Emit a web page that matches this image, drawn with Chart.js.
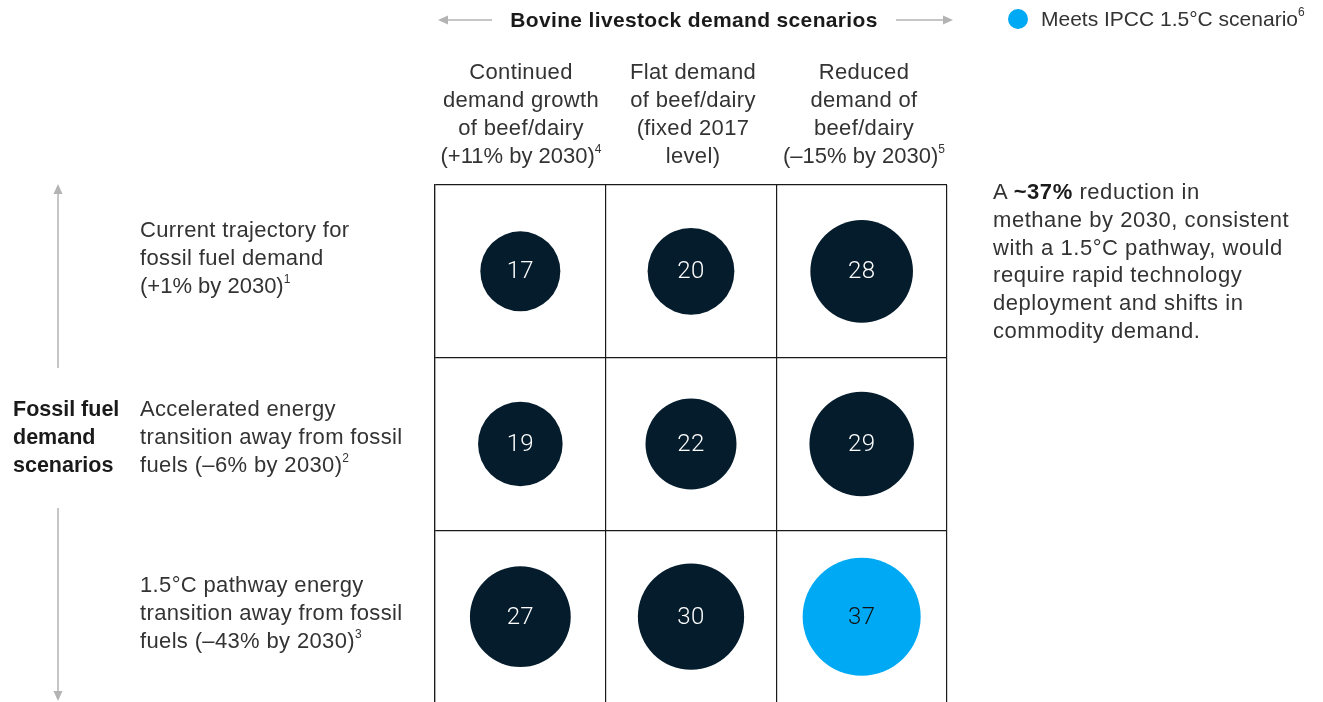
<!DOCTYPE html>
<html>
<head>
<meta charset="utf-8">
<script src="https://cdn.jsdelivr.net/npm/chart.js@4.4.1/dist/chart.umd.min.js"></script>
<style>
  html, body { margin: 0; padding: 0; background: #fff; }
  body { width: 1323px; height: 702px; overflow: hidden; position: relative;
         font-family: 'Liberation Sans', Arial, sans-serif; color: #333; font-size: 22px; letter-spacing: 0.35px; }
  #wrap { position: absolute; left: 0; top: 0; width: 1323px; height: 702px; overflow: hidden; }
  .t { position: absolute; line-height: 28px; white-space: nowrap; }
  .c { text-align: center; transform: translateX(-50%); }
  .b { font-weight: bold; color: #1a1a1a; }
  .n { letter-spacing: 0; }
  sup { font-size: 12px; line-height: 0; position: relative; top: -2px; vertical-align: super; letter-spacing: 0; }
  svg { position: absolute; left: 0; top: 0; }
</style>
</head>
<body>
<!-- canvas is taller than the page so the open bottom edge of the grid is cut off -->
<div id="wrap"><canvas id="grid" width="1323" height="763"></canvas></div>

<svg width="1323" height="702">
  <g stroke="#b3b3b3" stroke-width="1.5" fill="#b3b3b3">
    <line x1="446" y1="20" x2="492" y2="20"/><path d="M438 20 L448 15.5 L448 24.5 Z" stroke="none"/>
    <line x1="896" y1="20" x2="944" y2="20"/><path d="M953 20 L943 15.5 L943 24.5 Z" stroke="none"/>
    <line x1="58" y1="193" x2="58" y2="368"/><path d="M58 184 L53.5 194 L62.5 194 Z" stroke="none"/>
    <line x1="58" y1="508" x2="58" y2="692"/><path d="M58 701 L53.5 691 L62.5 691 Z" stroke="none"/>
  </g>
  <circle cx="1018" cy="19" r="10" fill="#00a9f4"/>
</svg>

<div class="t b c" style="left:694px; top:6px; font-size:21px;">Bovine livestock demand scenarios</div>
<div class="t" style="left:1041px; top:5px; font-size:21px; letter-spacing:0;">Meets IPCC 1.5°C scenario<sup>6</sup></div>

<div class="t c" style="left:521px; top:58px;">Continued<br>demand growth<br>of beef/dairy<br><span class="n">(+11% by 2030)<sup>4</sup></span></div>
<div class="t c" style="left:693px; top:58px;">Flat demand<br>of beef/dairy<br>(fixed 2017<br>level)</div>
<div class="t c" style="left:864px; top:58px;">Reduced<br>demand of<br>beef/dairy<br><span class="n">(–15% by 2030)<sup>5</sup></span></div>

<div class="t" style="left:140px; top:216px;">Current trajectory for<br>fossil fuel demand<br><span class="n">(+1% by 2030)<sup>1</sup></span></div>
<div class="t" style="left:140px; top:395px;">Accelerated energy<br>transition away from fossil<br>fuels (–6% by 2030)<sup>2</sup></div>
<div class="t" style="left:140px; top:571px;">1.5°C pathway energy<br>transition away from fossil<br>fuels (–43% by 2030)<sup>3</sup></div>
<div class="t b" style="left:13px; top:395px; letter-spacing:0; font-size:21.5px;">Fossil fuel<br>demand<br>scenarios</div>

<div class="t" style="left:993px; top:178px; line-height:27.8px; letter-spacing:0.55px;">A <b style="color:#1a1a1a">~37%</b> reduction in<br>methane by 2030, consistent<br>with a 1.5°C pathway, would<br>require rapid technology<br>deployment and shifts in<br>commodity demand.</div>

<script>
// bovine scenarios (columns) and fossil fuel scenarios (rows)
const bovineScenarios = ['Continued demand growth', 'Flat demand', 'Reduced demand'];
const fossilScenarios = ['Current trajectory', 'Accelerated transition', '1.5°C pathway'];

// methane reduction by 2030, %, one array per fossil fuel scenario
const currentTrajectory = [17, 20, 28];
const acceleratedTransition = [19, 22, 29];
const pathway15 = [27, 30, 37];

const IPCC_TARGET = 37;   // % reduction consistent with 1.5°C
const NAVY = '#051c2c';
const CYAN = '#00a9f4';

const rows = [currentTrajectory, acceleratedTransition, pathway15];
const points = [];
rows.forEach((vals, yi) => {
  vals.forEach((v, xi) => {
    // bubble area proportional to the value
    points.push({ x: xi, y: yi, r: 9.7 * Math.sqrt(v), v: v });
  });
});

const cellTicks = axis => { axis.ticks = [-0.5, 0.5, 1.5, 2.5].map(v => ({ value: v })); };

const bubbleLabels = {
  id: 'bubbleLabels',
  afterDatasetsDraw(chart) {
    const ctx = chart.ctx;
    const meta = chart.getDatasetMeta(0);
    ctx.save();
    ctx.font = '300 24px Roboto, "Liberation Sans", sans-serif';
    ctx.textAlign = 'center';
    ctx.textBaseline = 'middle';
    meta.data.forEach((el, i) => {
      const p = points[i];
      ctx.fillStyle = p.v >= IPCC_TARGET ? '#111' : '#fff';
      ctx.fillText(String(p.v), el.x, el.y + 1);
    });
    ctx.restore();
  }
};

new Chart(document.getElementById('grid'), {
  type: 'bubble',
  data: {
    datasets: [{
      data: points,
      backgroundColor: points.map(p => p.v >= IPCC_TARGET ? CYAN : NAVY),
      borderWidth: 0,
      clip: false
    }]
  },
  options: {
    responsive: false,
    animation: false,
    events: [],
    // bubble overflow forces ~60px min padding, so bottom is 60
    layout: { padding: { left: 435, right: 376, top: 185, bottom: 60 } },
    plugins: { legend: { display: false }, tooltip: { enabled: false } },
    scales: {
      x: {
        type: 'linear', min: -0.5, max: 2.5,
        afterBuildTicks: cellTicks,
        afterFit: s => { s.height = 0; },
        ticks: { display: false },
        grid: { color: '#1a1a1a', lineWidth: 1.2, drawTicks: false },
        border: { display: true, color: '#1a1a1a', width: 1.2 }
      },
      y: {
        type: 'linear', min: -0.5, max: 2.5, reverse: true,
        afterBuildTicks: cellTicks,
        afterFit: s => { s.width = 0; },
        ticks: { display: false },
        grid: { color: '#1a1a1a', lineWidth: 1.2, drawTicks: false },
        border: { display: true, color: '#1a1a1a', width: 1.2 }
      }
    }
  },
  plugins: [bubbleLabels]
});
</script>
</body>
</html>
